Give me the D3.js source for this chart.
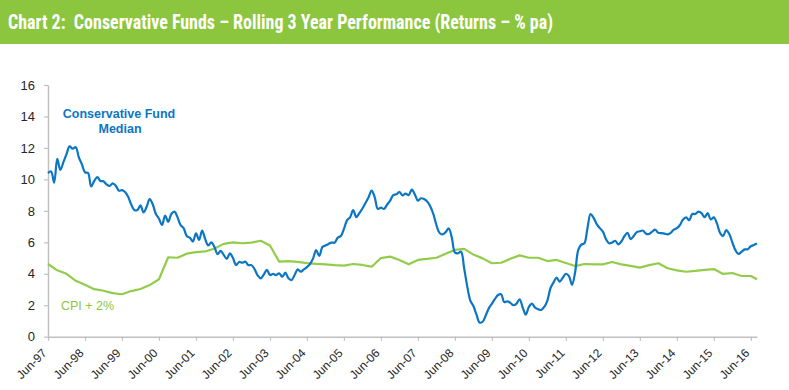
<!DOCTYPE html>
<html>
<head>
<meta charset="utf-8">
<script src="https://cdn.jsdelivr.net/npm/d3@7"></script>
<style>
  html, body { margin: 0; padding: 0; background: #fff; }
  svg { display: block; }
</style>
</head>
<body>
<svg id="chart" width="789" height="390"></svg>
<script>
// ---------------- DATA ----------------
const title = "Chart 2:  Conservative Funds \u2013 Rolling 3 Year Performance (Returns \u2013 % pa)";
const startMonth = "Jun-97"; // monthly series start
// Conservative Fund Median, monthly Jun-97 .. Aug-16 (% pa)
const medianValues = [
  10.4, 10.5, 9.8, 11.3, 10.6, 11.1, 11.6, 12.1, 11.95, 12.05, 11.4, 10.95,
  10.45, 10.4, 9.55, 9.9, 10.15, 9.9, 9.88, 9.68, 9.58, 9.75, 9.6, 9.28,
  9.32, 9.2, 8.9, 8.4, 8.05, 8.05, 8.35, 7.9, 8.26, 8.75, 8.4, 7.8,
  7.5, 7.1, 7.7, 7.3, 7.8, 7.95, 7.6, 7.1, 6.9, 6.4, 6.3, 6.05,
  6.57, 6.15, 6.75, 6.2, 5.8, 6.0, 5.7, 5.25, 5.45, 5.2, 4.95, 5.3,
  5.0, 4.56, 4.75, 4.7, 4.77, 4.55, 4.55, 4.3, 3.9, 3.71, 3.95, 4.25,
  3.92, 3.99, 3.92, 4.03, 3.81, 4.07, 3.71, 3.6, 3.92, 4.28, 4.13, 4.28,
  4.42, 4.62, 4.98, 5.5, 5.13, 5.7, 5.8, 5.9, 5.98, 5.98, 6.3, 6.4,
  6.85, 7.4, 7.59, 8.05, 7.6, 7.85, 8.15, 8.5, 8.87, 9.28, 8.85, 8.12,
  8.2, 8.12, 8.4, 8.65, 9.0, 9.05, 9.2, 8.98, 9.1, 9.0, 9.35, 9.05,
  8.65, 8.8, 8.75, 8.6, 8.3, 7.8, 7.1, 6.6, 6.5, 6.65, 6.88, 6.3,
  5.35, 5.3, 5.4, 4.35, 3.2, 2.3, 1.95, 1.4, 0.9, 0.95, 1.35, 1.8,
  2.1, 2.4, 2.65, 2.7, 2.2, 2.25, 2.15, 2.0, 2.1, 2.38, 1.85, 1.4,
  1.9, 2.1, 1.85, 1.75, 1.7, 1.9, 2.3, 3.08, 3.45, 3.75, 3.5, 3.75,
  4.0, 3.85, 3.3, 4.1, 5.5, 5.85, 5.94, 6.9, 7.8, 7.55, 7.16, 6.9,
  6.68, 6.2, 5.94, 5.98, 6.1, 5.87, 6.05, 6.4, 6.6, 6.2, 6.4, 6.65,
  6.7, 6.75, 6.55, 6.53, 6.68, 6.8, 6.6, 6.58, 6.55, 6.5, 6.6, 6.8,
  6.9, 7.1, 7.45, 7.59, 7.4, 7.8, 7.8, 7.95, 7.85, 7.6, 7.85, 7.45,
  7.59, 7.2, 6.6, 6.4, 6.78, 6.53, 6.0, 5.5, 5.26, 5.4, 5.55, 5.56,
  5.75, 5.83, 5.92
];
// CPI + 2%, quarterly Jun-97 .. Jun-16, then Aug-16 (% pa)
const cpiValues = [
  4.62, 4.22, 4.0, 3.55, 3.3, 3.02, 2.92, 2.77, 2.7, 2.9, 3.03, 3.28,
  3.65, 5.05, 5.02, 5.28, 5.38, 5.42, 5.6, 5.9, 6.0, 5.94, 5.98, 6.1,
  5.8, 4.77, 4.81, 4.76, 4.68, 4.63, 4.6, 4.55, 4.52, 4.62, 4.56, 4.45,
  5.0, 5.09, 4.88, 4.6, 4.88, 4.95, 5.02, 5.27, 5.52, 5.58, 5.22, 4.98,
  4.67, 4.7, 4.95, 5.17, 5.02, 5.02, 4.81, 4.88, 4.68, 4.49, 4.62, 4.6,
  4.6, 4.75, 4.6, 4.5, 4.39, 4.55, 4.67, 4.35, 4.22, 4.13, 4.18, 4.25,
  4.3, 3.99, 4.05, 3.86, 3.86, 3.65
];
const tickLabels = ["Jun-97","Jun-98","Jun-99","Jun-00","Jun-01","Jun-02","Jun-03","Jun-04","Jun-05","Jun-06",
  "Jun-07","Jun-08","Jun-09","Jun-10","Jun-11","Jun-12","Jun-13","Jun-14","Jun-15","Jun-16"];
const yTicks = [0, 2, 4, 6, 8, 10, 12, 14, 16];
const seriesNames = ["Conservative Fund", "Median", "CPI + 2%"];

// ---------------- LAYOUT ----------------
const svg = d3.select("#chart");
const W = 789, H = 390;
const plot = { left: 48, right: 757, top: 85, bottom: 336.7 };
const lastMonth = medianValues.length - 1;

const x = d3.scaleLinear().domain([0, lastMonth]).range([plot.left, plot.right]);
const y = d3.scaleLinear().domain([0, 16]).range([plot.bottom, plot.top]);

// Title bar
svg.append("rect").attr("x", 0).attr("y", 0).attr("width", W).attr("height", 44)
  .attr("fill", "#8CC63F");
svg.append("text")
  .attr("x", 8).attr("y", 29)
  .attr("fill", "#fff")
  .attr("font-family", "'Liberation Sans Narrow', 'Arial Narrow', 'Roboto Condensed', 'Liberation Sans', sans-serif")
  .attr("font-weight", "bold")
  .attr("font-size", 20)
  .attr("textLength", 545)
  .attr("lengthAdjust", "spacingAndGlyphs")
  .style("white-space", "pre")
  .attr("xml:space", "preserve")
  .text(title);

const axisColor = "#c0c0c0";
const labelColor = "#262626";
const fontFam = "'Liberation Sans', Arial, sans-serif";

// Y axis
const yAxis = svg.append("g").attr("transform", `translate(${plot.left},0)`)
  .call(d3.axisLeft(y).tickValues(yTicks).tickFormat(d3.format("d")).tickSize(4).tickSizeOuter(0).tickPadding(9));
yAxis.select(".domain").attr("stroke", axisColor).attr("stroke-width", 1.5);
yAxis.selectAll(".tick line").attr("stroke", axisColor).attr("stroke-width", 1.2);
yAxis.selectAll("text").attr("fill", labelColor).attr("font-family", fontFam).attr("font-size", 13);

// X axis
const xAxis = svg.append("g").attr("transform", `translate(0,${plot.bottom})`)
  .call(d3.axisBottom(x)
    .tickValues(tickLabels.map((_, i) => i * 12))
    .tickFormat(d => tickLabels[d / 12])
    .tickSize(4).tickSizeOuter(0));
xAxis.select(".domain").attr("stroke", axisColor).attr("stroke-width", 1.5);
xAxis.selectAll(".tick line").attr("stroke", axisColor).attr("stroke-width", 1.2);
xAxis.selectAll("text")
  .attr("fill", labelColor).attr("font-family", fontFam).attr("font-size", 12)
  .attr("x", 0).attr("y", 0).attr("dy", 0)
  .attr("transform", "translate(-1,17) rotate(-45)")
  .style("text-anchor", "end");

// Lines
const medianData = medianValues.map((v, i) => ({ m: i, v }));
const cpiData = cpiValues.map((v, i) => ({ m: Math.min(i * 3, lastMonth), v }));

const lineSmooth = d3.line().x(d => x(d.m)).y(d => y(d.v)).curve(d3.curveCatmullRom.alpha(0.5));
const lineStraight = d3.line().x(d => x(d.m)).y(d => y(d.v));

svg.append("path").datum(cpiData)
  .attr("d", lineStraight)
  .attr("fill", "none").attr("stroke", "#92CC4A").attr("stroke-width", 2.2)
  .attr("stroke-linejoin", "round");

svg.append("path").datum(medianData)
  .attr("d", lineSmooth)
  .attr("fill", "none").attr("stroke", "#0B76C4").attr("stroke-width", 2.2)
  .attr("stroke-linejoin", "round");

// Series labels
svg.append("text").attr("x", 119).attr("y", 118)
  .attr("text-anchor", "middle").attr("fill", "#0B76C4")
  .attr("font-family", fontFam).attr("font-weight", "bold").attr("font-size", 12.5)
  .text(seriesNames[0]);
svg.append("text").attr("x", 120).attr("y", 133)
  .attr("text-anchor", "middle").attr("fill", "#0B76C4")
  .attr("font-family", fontFam).attr("font-weight", "bold").attr("font-size", 12.5)
  .text(seriesNames[1]);
svg.append("text").attr("x", 61).attr("y", 310)
  .attr("fill", "#8CC63F")
  .attr("font-family", fontFam).attr("font-size", 12.5)
  .text(seriesNames[2]);
</script>
</body>
</html>
